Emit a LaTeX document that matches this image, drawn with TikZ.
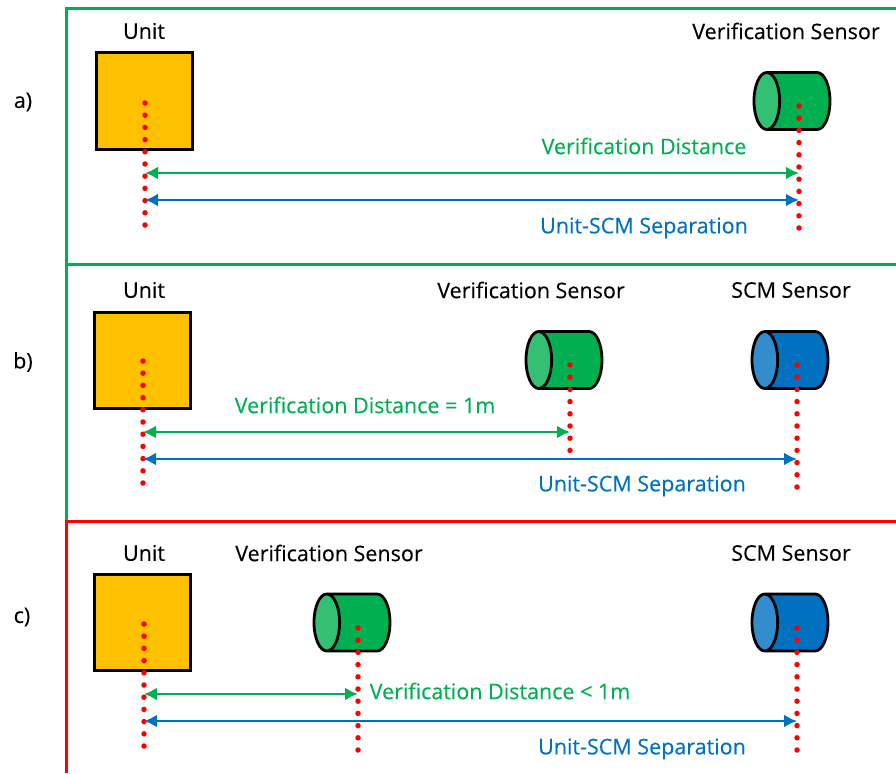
\documentclass[tikz,border=0pt]{standalone}
\usepackage{fontspec}
\setmainfont[FakeBold=0.2]{Open Sans}
\usetikzlibrary{arrows.meta,shapes.geometric}
\definecolor{frameg}{HTML}{00B050}
\definecolor{frameb}{HTML}{0070C0}
\definecolor{unitfill}{HTML}{FFC000}
\definecolor{capg}{HTML}{33C073}
\definecolor{capb}{HTML}{338DCD}

\begin{document}
\begin{tikzpicture}[
            x=1pt, y=-1pt,
            every node/.style={font=\fontsize{21.5}{24}\selectfont},
            unitbox/.style={draw=black, line width=3pt, fill=unitfill, minimum size=96pt, inner sep=0pt},
            sensor/.style={shape=cylinder, shape border rotate=180, shape aspect=0.45, draw=black, line width=2.8pt,
                cylinder uses custom fill, cylinder body fill=#1, minimum width=57pt, minimum height=76pt,
                inner ysep=28.5pt, inner xsep=0pt},
            sensg/.style={sensor=frameg, cylinder end fill=capg},
            sensb/.style={sensor=frameb, cylinder end fill=capb},
            frameline/.style={line width=3pt},
            reddots/.style={draw=red, line width=5.5pt, line cap=round, dash pattern=on 0pt off 12.2pt},
            gdist/.style={draw=frameg, line width=2.8pt, {Latex[length=13pt,width=13pt]}-{Latex[length=13pt,width=13pt]}},
            bdist/.style={draw=frameb, line width=2.8pt, {Latex[length=13pt,width=13pt]}-{Latex[length=13pt,width=13pt]}},
            gtext/.style={text=frameg},
            btext/.style={text=frameb},
        ]
        \useasboundingbox (0,0) rectangle (896,773);
        % frames
        \draw[frameline, frameg] (896,9) -- (66,9) -- (66,521);
        \draw[frameline, frameg] (66,264) -- (896,264);
        \draw[frameline, red] (896,521) -- (66,521) -- (66,773);
        % a)
        \node (la) at (23,102) {a)};
        \node[unitbox] (ua) at (144,101) {};
        \node (tua) at (144,31) {Unit};
        \node[sensg] (va) at (805.5,101) {};
        \node (tva) at (786,31) {Verification Sensor};
        \coordinate (ua1) at (145,103);
        \coordinate (ua2) at (145,226);
        \coordinate (va1) at (799,106);
        \coordinate (va2) at (799,229);
        \draw[reddots] (ua1) -- (ua2);
        \draw[reddots] (va1) -- (va2);
        \draw[gdist] (ua1 |- 0,173) -- (va1 |- 0,173);
        \draw[bdist] (ua1 |- 0,200) -- (va1 |- 0,200);
        \node[gtext] (da) at (644,146) {Verification Distance};
        \node[btext] (sa) at (644,228) {Unit-SCM Separation};
        % b)
        \node (lb) at (23,362) {b)};
        \node[unitbox] (ub) at (142,360) {};
        \node (tub) at (144,290) {Unit};
        \node[sensg] (vb) at (577.5,360) {};
        \node (tvb) at (531,290) {Verification Sensor};
        \node[sensb] (cb) at (803.5,360) {};
        \node (tcb) at (791,290) {SCM Sensor};
        \coordinate (ub1) at (143,361);
        \coordinate (ub2) at (143,485);
        \coordinate (vb1) at (570,365);
        \coordinate (vb2) at (570,462);
        \coordinate (cb1) at (797,365);
        \coordinate (cb2) at (797,489);
        \draw[reddots] (ub1) -- (ub2);
        \draw[reddots] (vb1) -- (vb2);
        \draw[reddots] (cb1) -- (cb2);
        \draw[gdist] (ub1 |- 0,432) -- (vb1 |- 0,432);
        \draw[bdist] (ub1 |- 0,459) -- (cb1 |- 0,459);
        \node[gtext] (db) at (365,405) {Verification Distance = 1m};
        \node[btext] (sb) at (642,486) {Unit-SCM Separation};
        % c)
        \node (lc) at (22,617) {c)};
        \node[unitbox] (uc) at (142.5,622.5) {};
        \node (tuc) at (144,553) {Unit};
        \node[sensg] (vc) at (365.5,622.5) {};
        \node (tvc) at (329,553) {Verification Sensor};
        \node[sensb] (cc) at (803.5,622.5) {};
        \node (tcc) at (791,553) {SCM Sensor};
        \coordinate (uc1) at (144,624);
        \coordinate (uc2) at (144,748);
        \coordinate (vc1) at (358,628);
        \coordinate (vc2) at (358,751);
        \coordinate (cc1) at (797,628);
        \coordinate (cc2) at (797,751);
        \draw[reddots] (uc1) -- (uc2);
        \draw[reddots] (vc1) -- (vc2);
        \draw[reddots] (cc1) -- (cc2);
        \draw[gdist] (uc1 |- 0,694) -- (vc1 |- 0,694);
        \draw[bdist] (uc1 |- 0,721) -- (cc1 |- 0,721);
        \node[gtext] (dc) at (500,691) {Verification Distance < 1m};
        \node[btext] (sc) at (642,749) {Unit-SCM Separation};
    \end{tikzpicture}
\end{document}
